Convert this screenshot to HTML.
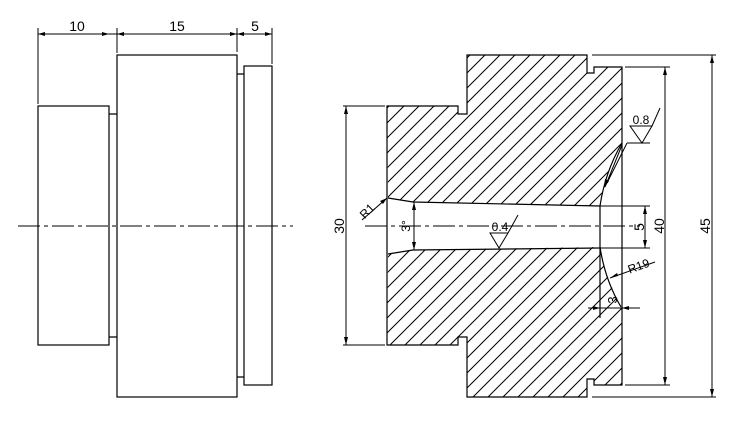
<!DOCTYPE html>
<html><head><style>html,body{margin:0;padding:0;background:#fff}svg{display:block}text{font-family:"Liberation Sans",sans-serif;fill:#000}</style></head>
<body>
<svg width="743" height="425" viewBox="0 0 743 425" xmlns="http://www.w3.org/2000/svg">
<defs>
<pattern id="h" patternUnits="userSpaceOnUse" width="15" height="15">
<path d="M-4,19 L19,-4 M-4,4 L4,-4 M11,19 L19,11" stroke="#000" stroke-width="1"/>
</pattern>
</defs>
<g fill="none" stroke="#000" stroke-width="1.2">
<!-- left view -->
<rect x="38" y="106" width="71" height="239"/>
<path d="M109,114 H117 M109,337 H117"/>
<rect x="117" y="55" width="120" height="342"/>
<path d="M237,74 H244 M237,377 H244"/>
<rect x="244" y="66" width="28" height="319"/>
<path d="M38,28 V104 M117,28 V53 M237,28 V52 M272,28 V64 M38,34 H272" stroke-width="1"/>
</g>
<g fill="#000">
<path d="M38,34 l7,-2 v4z M109,34 l-7,-2 v4z M117,34 l7,-2 v4z M237,34 l-7,-2 v4z M237,34 l7,-2 v4z M272,34 l-7,-2 v4z"/>
</g>
<path d="M18,226 H293" stroke="#000" stroke-width="1" stroke-dasharray="22,4,4,4"/>
<text x="77" y="31" font-size="14" text-anchor="middle">10</text>
<text x="177" y="31" font-size="14" text-anchor="middle">15</text>
<text x="255" y="31" font-size="14" text-anchor="middle">5</text>

<!-- section view -->
<path d="M387,106 H458 V114 H467 V55 H587 V73 H594 V67 H622 V143 Q606,170 600,206 L413,202 L388,198 Z" fill="url(#h)" stroke="none"/>
<path d="M387,345 H458 V337 H467 V397 H587 V379 H594 V385 H622 V307 Q606,280 600,247 L413,250 L388,254 Z" fill="url(#h)" stroke="none"/>
<g fill="none" stroke="#000" stroke-width="1.2">
<path d="M387,106 H458 V114 H467 V55 H587 V73 H594 V67 H622 V385 H594 V379 H587 V397 H467 V337 H458 V345 H387 Z"/>
<path d="M388,198 L413,202 L600,206"/>
<path d="M388,254 L413,250 L600,248"/>
<path d="M387,198 V254" stroke-width="0"/>
<path d="M600,206 Q605,172 622,143"/>
<path d="M600,247 Q605,280 621,307"/>
<path d="M600,206 V318"/>
</g>
<g fill="none" stroke="#000" stroke-width="1">
<!-- 30 -->
<path d="M343,106 H385 M343,345 H385 M346,106 V345"/>
<!-- 40 -->
<path d="M625,67 H670 M625,385 H670 M665,67 V385"/>
<!-- 45 -->
<path d="M592,55 H716 M592,397 H716 M712,55 V397"/>
<!-- 5 -->
<path d="M600,206 H650 M600,248 H650 M645,206 V248"/>
<!-- 3 deg -->
<path d="M414,202 V250"/>
<!-- R1 -->
<path d="M362,220 L387,198"/>
<!-- 0.4 -->
<path d="M490,233 H508 L499,248 Z M508,233 L518,215"/>
<!-- 0.8 -->
<path d="M630,126 H652 L642,143 Z M652,126 L660,108 M627,143 H650"/>
<path d="M622,145 L605,187 M627,143 L607,183"/>
<!-- R19 -->
<path d="M610,278 L655,262"/>
<!-- 3 -->
<path d="M588,308 H640"/>
</g>
<path d="M365,226 H640" stroke="#000" stroke-width="1" stroke-dasharray="22,4,4,4"/>
<g fill="#000">
<path d="M346,106 l-2,8 h4z M346,345 l-2,-8 h4z M665,67 l-2,8 h4z M665,385 l-2,-8 h4z M712,55 l-2,8 h4z M712,397 l-2,-8 h4z M645,206 l-2,8 h4z M645,248 l-2,-8 h4z M414,202 l-2,8 h4z M414,250 l-2,-8 h4z"/>
<path d="M387,198 l-7,3 l3,3z M604,188 l1,-9 l4,2z M610,278 l7,-5 l1,3z M600,308 l-7,-2 v4z M622,308 l7,-2 v4z"/>
</g>
<g font-size="14">
<text transform="translate(346,226) rotate(-90)" x="0" y="-2" text-anchor="middle">30</text>
<text transform="translate(665,226) rotate(-90)" x="0" y="-1" text-anchor="middle">40</text>
<text transform="translate(712,226) rotate(-90)" x="0" y="-2" text-anchor="middle">45</text>
<text transform="translate(645,227) rotate(-90)" x="0" y="-1" text-anchor="middle">5</text>
<text transform="translate(414,226) rotate(-90)" x="0" y="-4" text-anchor="middle" font-size="12">3°</text>
<text transform="translate(370,214) rotate(-45)" x="0" y="0" text-anchor="middle" font-size="12">R1</text>
<text x="500" y="231" font-size="12" text-anchor="middle">0.4</text>
<text x="641" y="124" font-size="12" text-anchor="middle">0.8</text>
<text transform="translate(640,270) rotate(-20)" x="0" y="0" text-anchor="middle" font-size="12">R19</text>
<text transform="translate(612,300) rotate(-90)" x="0" y="5" text-anchor="middle" font-size="13">3</text>
</g>
</svg>
</body></html>
